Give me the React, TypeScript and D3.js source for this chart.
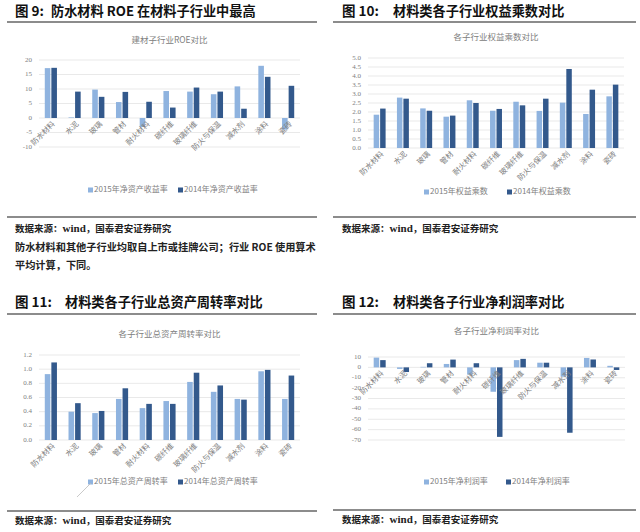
import React from "react";
import * as d3 from "d3";

const categories = ["防水材料", "水泥", "玻璃", "管材", "耐火材料", "碳纤维", "玻璃纤维", "防火与保温", "减水剂", "涂料", "瓷砖"];

const roe2015 = [17.2, 0.2, 9.8, 5.5, -3.1, 9.3, 9.1, 8.2, 10.9, 18.0, -4.0];
const roe2014 = [17.3, 9.1, 7.3, 9.0, 5.6, 3.6, 10.5, 9.1, 3.2, 14.2, 11.1];

const em2015 = [1.85, 2.8, 2.2, 1.74, 2.65, 2.07, 2.57, 2.06, 2.52, 1.89, 2.87];
const em2014 = [2.19, 2.74, 2.07, 1.8, 2.5, 2.17, 2.37, 2.74, 4.39, 3.24, 3.52];

const ato2015 = [0.93, 0.4, 0.38, 0.58, 0.45, 0.55, 0.82, 0.68, 0.58, 0.97, 0.58];
const ato2014 = [1.095, 0.52, 0.41, 0.73, 0.51, 0.51, 0.95, 0.77, 0.57, 0.99, 0.91];

const npm2015 = [9.4, -1.5, 0.5, 3.3, -7.0, -23.5, 7.0, 4.5, -9.0, 9.1, 1.5];
const npm2014 = [7.0, -4.5, 4.0, 7.5, 4.0, -67.0, 8.2, 4.5, -63.0, 7.6, -2.5];

const roeTicks = [20, 15, 10, 5, 0, -5, -10];
const emTicks = [0, 0.5, 1, 1.5, 2, 2.5, 3, 3.5, 4, 4.5, 5];
const atoTicks = [0, 0.2, 0.4, 0.6, 0.8, 1.0, 1.2];
const npmTicks = [10, 0, -10, -20, -30, -40, -50, -60, -70];

const LIGHT = "#8FB3DF";
const DARK = "#33598C";
const GRID = "#E3E3E3";
const GRAY = "#808080";
const CJK = "'Noto Sans CJK SC', 'Noto Sans', sans-serif";
const SERIF = "'Liberation Serif', 'DejaVu Serif', serif";

type PanelProps = {
  x0: number;
  x1: number;
  prefix: string;
  prefixX: number;
  title: string;
  titleX: number;
  titleY: number;
  lineY: number;
  chartTitle: string;
  chartTitleY: number;
  yTop: number;
  yBottom: number;
  domain: [number, number];
  ticks: number[];
  fmt: (v: number) => string;
  s1: number[];
  s2: number[];
  legend1: string;
  legend2: string;
  legendY: number;
  leg1X: number;
  leg2X: number;
  sepY: number;
  sourceY: number;
  left: number;
  right: number;
};

function Panel(p: PanelProps) {
  const x = d3.scaleBand<string>().domain(categories).range([p.x0, p.x1]).padding(0);
  const y = d3.scaleLinear().domain(p.domain).range([p.yBottom, p.yTop]);
  const bw = x.bandwidth();
  const w = bw * 0.235;
  const y0 = y(0);
  const mid = (p.x0 + p.x1) / 2;
  return (
    <g>
      <text x={p.prefixX} y={p.titleY} fontFamily={CJK} fontWeight={700} fontSize={13.5} fill="#111" dominantBaseline="middle">{p.prefix}</text>
      <text x={p.titleX} y={p.titleY} fontFamily={CJK} fontWeight={700} fontSize={13.2} fill="#111" dominantBaseline="middle">{p.title}</text>
      <line x1={p.left} x2={p.right} y1={p.lineY} y2={p.lineY} stroke="#666" strokeWidth={1.5} />
      <text x={mid} y={p.chartTitleY} textAnchor="middle" fontFamily={CJK} fontSize={8.5} fill={GRAY} dominantBaseline="middle">{p.chartTitle}</text>
      {p.ticks.map((t) => (
        <g key={t}>
          <line x1={p.x0} x2={p.x1} y1={y(t)} y2={y(t)} stroke={GRID} strokeWidth={0.8} />
          <text x={p.x0 - 7} y={y(t)} textAnchor="end" dominantBaseline="middle" fontFamily={SERIF} fontSize={7} fill={GRAY}>{p.fmt(t)}</text>
        </g>
      ))}
      {categories.map((c, i) => {
        const cx = (x(c) as number) + bw / 2;
        const v1 = p.s1[i];
        const v2 = p.s2[i];
        return (
          <g key={c}>
            <rect x={cx - w - 0.5} y={Math.min(y(v1), y0)} width={w} height={Math.abs(y(v1) - y0)} fill={LIGHT} />
            <rect x={cx + 0.5} y={Math.min(y(v2), y0)} width={w} height={Math.abs(y(v2) - y0)} fill={DARK} />
          </g>
        );
      })}
      {categories.map((c) => {
        const cx = (x(c) as number) + bw / 2 + 3;
        return (
          <text key={c} transform={`translate(${cx},${y0 + 5}) rotate(-45)`} textAnchor="end" fontFamily={CJK} fontSize={7.5} fill={GRAY} dominantBaseline="middle">{c}</text>
        );
      })}
      <rect x={p.leg1X} y={p.legendY - 2.5} width={5} height={5} fill={LIGHT} />
      <text x={p.leg1X + 6} y={p.legendY} dominantBaseline="middle" fontFamily={CJK} fontSize={8} fill={GRAY}>{p.legend1}</text>
      <rect x={p.leg2X} y={p.legendY - 2.5} width={5} height={5} fill={DARK} />
      <text x={p.leg2X + 6} y={p.legendY} dominantBaseline="middle" fontFamily={CJK} fontSize={8} fill={GRAY}>{p.legend2}</text>
      <line x1={p.left} x2={p.right} y1={p.sepY} y2={p.sepY} stroke="#666" strokeWidth={1.5} />
      <text x={p.prefixX} y={p.sourceY} dominantBaseline="middle" fontFamily={CJK} fontWeight={700} fontSize={9.5} fill="#222">
        数据来源：<tspan fontFamily={SERIF} fontSize={11}>wind</tspan>，国泰君安证券研究
      </text>
    </g>
  );
}

export default function App() {
  return (
    <div style={{ position: "absolute", left: 0, top: 0 }}>
      <svg width={640} height={532} style={{ display: "block", background: "#fff" }}>
        <Panel
          x0={39} x1={300} prefix="图 9:" prefixX={15} title="防水材料 ROE 在材料子行业中最高" titleX={51} titleY={12} lineY={22}
          chartTitle="建材子行业ROE对比" chartTitleY={41} yTop={60} yBottom={147} domain={[-10, 20]} ticks={roeTicks}
          fmt={(v) => String(v)} s1={roe2015} s2={roe2014} legend1="2015年净资产收益率" legend2="2014年净资产收益率"
          legendY={190} leg1X={88} leg2X={178} sepY={217} sourceY={229} left={7} right={317}
        />
        <text x={15} y={248} dominantBaseline="middle" fontFamily={CJK} fontWeight={700} fontSize={10.2} fill="#222">防水材料和其他子行业均取自上市或挂牌公司；行业 ROE 使用算术</text>
        <text x={15} y={266} dominantBaseline="middle" fontFamily={CJK} fontWeight={700} fontSize={10.2} fill="#222">平均计算，下同。</text>
        <Panel
          x0={368} x1={624} prefix="图 10:" prefixX={342} title="材料类各子行业权益乘数对比" titleX={393} titleY={12} lineY={22}
          chartTitle="各子行业权益乘数对比" chartTitleY={38} yTop={58} yBottom={148} domain={[0, 5]} ticks={emTicks}
          fmt={(v) => v.toFixed(1)} s1={em2015} s2={em2014} legend1="2015年权益乘数" legend2="2014年权益乘数"
          legendY={192} leg1X={424} leg2X={507} sepY={217} sourceY={229} left={333} right={636}
        />
        <Panel
          x0={39} x1={300} prefix="图 11:" prefixX={15} title="材料类各子行业总资产周转率对比" titleX={65} titleY={303} lineY={314}
          chartTitle="各子行业总资产周转率对比" chartTitleY={335} yTop={355} yBottom={440} domain={[0, 1.2]} ticks={atoTicks}
          fmt={(v) => v.toFixed(1)} s1={ato2015} s2={ato2014} legend1="2015年总资产周转率" legend2="2014年总资产周转率"
          legendY={482} leg1X={88} leg2X={178} sepY={511} sourceY={521} left={7} right={317}
        />
        <line x1={77} y1={497} x2={91} y2={483} stroke="#BBBBBB" strokeWidth={0.8} />
        <Panel
          x0={368} x1={625} prefix="图 12:" prefixX={342} title="材料类各子行业净利润率对比" titleX={393} titleY={303} lineY={314}
          chartTitle="各子行业净利润率对比" chartTitleY={332} yTop={357} yBottom={440} domain={[-70, 10]} ticks={npmTicks}
          fmt={(v) => String(v)} s1={npm2015} s2={npm2014} legend1="2015年净利润率" legend2="2014年净利润率"
          legendY={482} leg1X={424} leg2X={506} sepY={510} sourceY={520} left={333} right={636}
        />
      </svg>
    </div>
  );
}
